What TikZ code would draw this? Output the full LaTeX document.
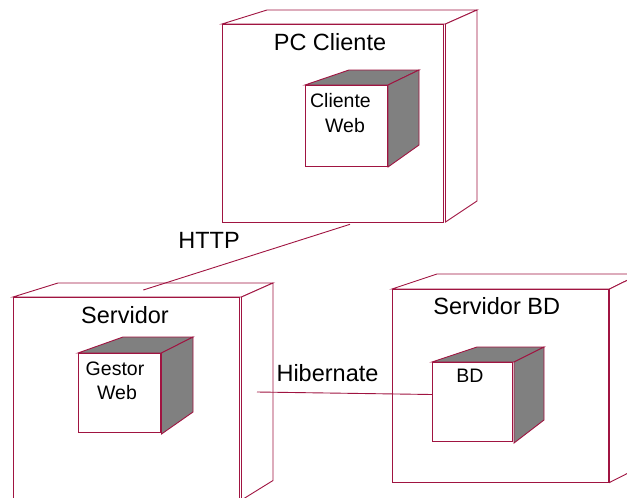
\documentclass[tikz,border=0pt]{standalone}
\usepackage{fontspec}
\setmainfont{Liberation Sans}
\definecolor{edge}{RGB}{160,20,65}
\definecolor{shade}{RGB}{128,128,128}
\begin{document}
\begin{tikzpicture}[x=1pt,y=-1pt,
  edgeline/.style={draw=edge,line width=0.9pt,line join=miter},
  frontface/.style={edgeline,fill=white},
  sideface/.style={edgeline,fill=white},
  darkface/.style={edgeline,fill=shade},
  bigtext/.style={font=\fontsize{23.5}{26}\selectfont,anchor=base,inner sep=0pt},
  smalltext/.style={font=\fontsize{19.5}{22}\selectfont,anchor=base,inner sep=0pt},
  link/.style={edgeline}]
\useasboundingbox (0,0) rectangle (627,498);
\clip (0,0) rectangle (627,498);

% ---- PC Cliente node ----
\draw[sideface] (222,24) -- (267,10) -- (477,10) -- (445.5,24) -- cycle;
\draw[sideface] (445.5,24) -- (477,10) -- (477,201) -- (445.5,222) -- cycle;
\node[frontface,minimum width=221,minimum height=198,inner sep=0pt,anchor=north west] (pc) at (222,24) {};
\node[bigtext] (pclabel) at (330,50.7) {PC Cliente};

% Cliente Web component
\draw[darkface] (305,85) -- (349,70) -- (419,70) -- (388,85) -- cycle;
\draw[darkface] (388,85) -- (419,70) -- (419,145) -- (388,167) -- cycle;
\node[frontface,minimum width=82,minimum height=81,inner sep=0pt,anchor=north west] (cweb) at (305,85) {};
\node[smalltext] (cweb1) at (340.5,107.3) {Cliente};
\node[smalltext] (cweb2) at (345,132.3) {Web};

% ---- Servidor node ----
\draw[sideface] (13,297) -- (58,283) -- (273,283) -- (241.5,297) -- cycle;
\draw[sideface] (241.5,297) -- (273,283) -- (273,480.5) -- (241.5,500) -- cycle;
\node[frontface,minimum width=226,minimum height=205,inner sep=0pt,anchor=north west] (srv) at (13,297) {};
\node[bigtext] (srvlabel) at (125,323.3) {Servidor};

% Gestor Web component
\draw[darkface] (78,353) -- (123,337) -- (193,337) -- (161.5,353) -- cycle;
\draw[darkface] (161.5,353) -- (193,337) -- (193,412) -- (161.5,434) -- cycle;
\node[frontface,minimum width=82,minimum height=79,inner sep=0pt,anchor=north west] (gweb) at (78,353) {};
\node[smalltext] (gweb1) at (115,375) {Gestor};
\node[smalltext] (gweb2) at (117,399) {Web};

% ---- Servidor BD node ----
\draw[sideface] (392,289) -- (437,274) -- (640,274) -- (609.5,289) -- cycle;
\draw[sideface] (609.5,289) -- (640,274) -- (640,467) -- (609.5,482.5) -- cycle;
\node[frontface,minimum width=215.5,minimum height=193,inner sep=0pt,anchor=north west] (sbd) at (392,289) {};
\node[bigtext] (sbdlabel) at (496.7,314.3) {Servidor BD};

% BD component
\draw[darkface] (432,362) -- (477,347) -- (544,347) -- (514,362) -- cycle;
\draw[darkface] (514,362) -- (544,347) -- (544,420) -- (514,443) -- cycle;
\node[frontface,minimum width=80,minimum height=79,inner sep=0pt,anchor=north west] (bd) at (432,362) {};
\node[smalltext] (bdlabel) at (470,382.7) {BD};

% ---- connectors ----
\coordinate (httpA) at (350,224.3);
\coordinate (httpB) at (143.3,290);
\draw[link] (httpA) -- (httpB);
\node[bigtext] (httplabel) at (209,248.3) {HTTP};

\coordinate (hibA) at (257,392);
\coordinate (hibB) at (bd.west |- 0,394.5);
\draw[link] (hibA) -- (hibB);
\node[bigtext] (hiblabel) at (327.5,381.7) {Hibernate};
\end{tikzpicture}
\end{document}
